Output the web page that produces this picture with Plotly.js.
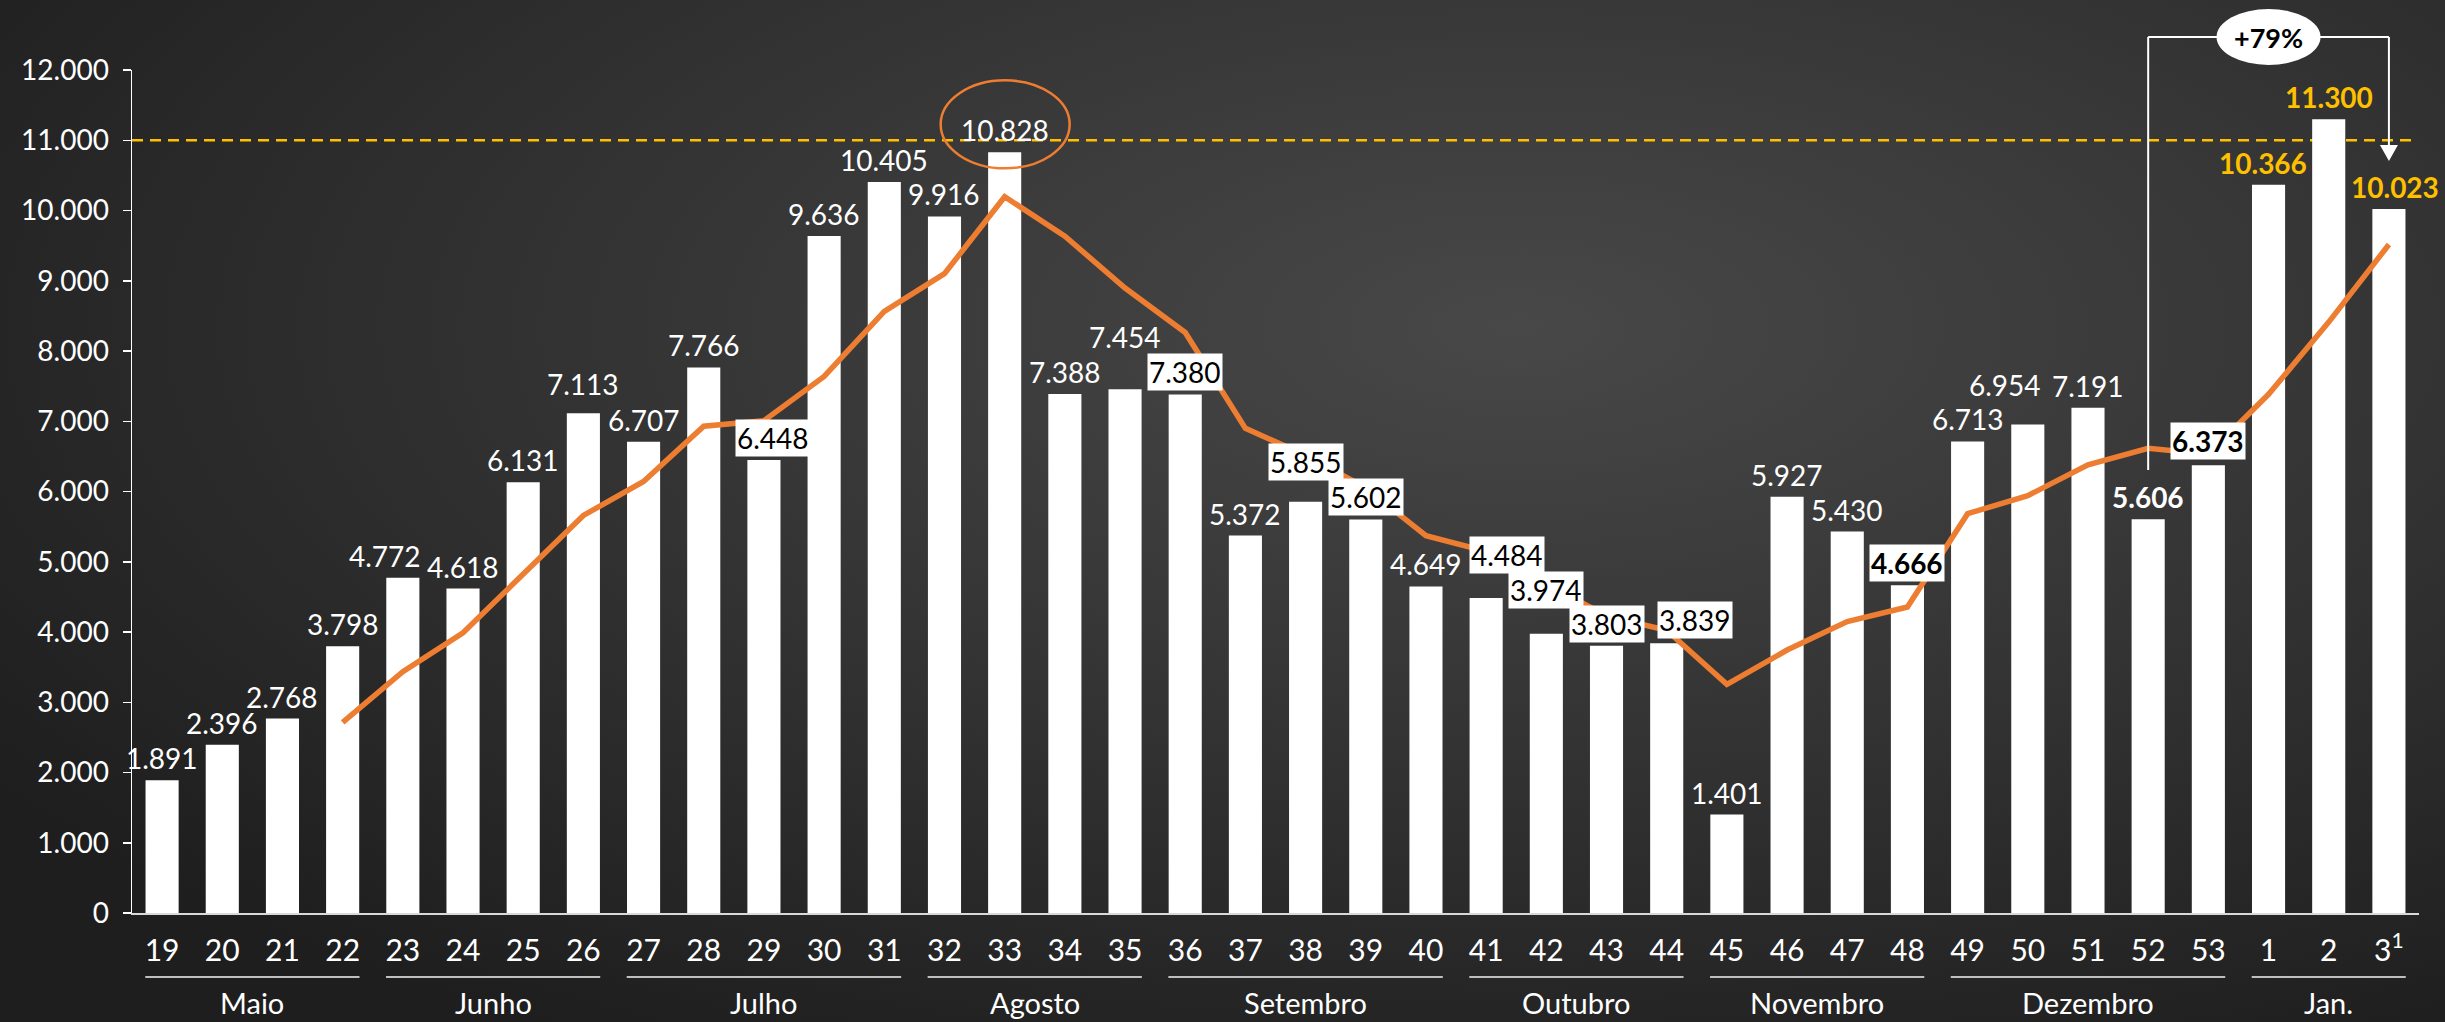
<!DOCTYPE html>
<html>
<head>
<meta charset="utf-8">
<script src="https://cdn.plot.ly/plotly-3.0.1.min.js"></script>
<style>
  html, body { margin: 0; padding: 0; }
  body {
    width: 2445px; height: 1022px; overflow: hidden;
    background: radial-gradient(ellipse 75% 80% at 62% 32%, #484848 0%, #3a3a3a 35%, #2b2b2b 70%, #1e1e1e 100%);
  }
  #chart { width: 2445px; height: 1022px; }
</style>
</head>
<body>
<div id="chart"></div>
<script>
// ---------------- DATA ----------------
const weeks = ['19','20','21','22','23','24','25','26','27','28','29','30','31','32','33','34','35','36','37','38','39','40','41','42','43','44','45','46','47','48','49','50','51','52','53','1','2','3'];
const weekLabels = ['19','20','21','22','23','24','25','26','27','28','29','30','31','32','33','34','35','36','37','38','39','40','41','42','43','44','45','46','47','48','49','50','51','52','53','1','2','3<sup>1</sup>'];
const cases = [1891,2396,2768,3798,4772,4618,6131,7113,6707,7766,6448,9636,10405,9916,10828,7388,7454,7380,5372,5855,5602,4649,4484,3974,3803,3839,1401,5927,5430,4666,6713,6954,7191,5606,6373,10366,11300,10023];
const movingAvg = [null,null,null,2713,3434,3989,4830,5659,6142,6929,7009,7639,8564,9101,10196,9634,8897,8263,6899,6515,6052,5370,5148,4677,4228,4025,3254,3743,4149,4356,5684,5941,6381,6616,6531,7384,8411,9516];
const months = ['Maio','Junho','Julho','Agosto','Setembro','Outubro','Novembro','Dezembro','Jan.'];
const monthWeekCounts = [4,4,5,4,5,4,4,5,3];
const referenceLevel = 11000;
const highlightWeek = '33';
const changeFrom = '52', changeTo = '3', changeText = '+79%';

// ---------------- STYLE ----------------
const FONT = 'Lato, "Open Sans", sans-serif';
const ORANGE = '#ED7D31', GOLD = '#FFC000';
// per-label placement / look (pixel offsets)
const labelStyle = {
  '23': {dx: -18},
  '26': {dy: 10},
  '29': {box: true, dx: 9, dy: 3},
  '35': {dy: 33},
  '36': {box: true, dy: 4},
  '38': {box: true, dy: 21},
  '39': {box: true, dy: 3},
  '41': {box: true, dx: 21, dy: 24},
  '42': {box: true, dy: 25},
  '43': {box: true, dy: 3},
  '44': {box: true, dx: 28, dy: 4},
  '48': {box: true, bold: true, dy: 3},
  '50': {dx: -23, dy: 20},
  '52': {bold: true},
  '53': {box: true, bold: true, dy: 5},
  '1': {gold: true, dx: -6},
  '2': {gold: true},
  '3': {gold: true, dx: 6}
};

const fmt = v => String(v).replace(/\B(?=(\d{3})+(?!\d))/g, '.');
const idx = weeks.map((w, i) => i);
const posOf = w => weeks.indexOf(w);

// plot geometry helpers (paper coords below/above plot)
const M = {l: 132, r: 26, t: 70, b: 109};
const plotH = 1022 - M.t - M.b;
const paperY = px => (1022 - M.b - px) / plotH;   // px = absolute page y

// ---------------- TRACES ----------------
const bars = {
  type: 'bar', x: idx, y: cases, width: 0.55,
  marker: {color: '#ffffff', line: {width: 0}},
  hoverinfo: 'skip', showlegend: false
};
const avgLine = {
  type: 'scatter', mode: 'lines', x: idx, y: movingAvg,
  line: {color: ORANGE, width: 5.5}, connectgaps: false,
  hoverinfo: 'skip', showlegend: false
};

// ---------------- ANNOTATIONS ----------------
const annotations = [];
cases.forEach((v, i) => {
  const s = labelStyle[weeks[i]] || {};
  let txt = fmt(v);
  if (s.bold || s.gold) txt = '<b>' + txt + '</b>';
  const a = {
    x: i, y: v, xref: 'x', yref: 'y', text: txt, showarrow: false,
    xanchor: 'center', yanchor: 'bottom',
    xshift: s.dx || 0, yshift: (s.dy !== undefined ? s.dy : 3),
    font: {family: FONT, size: 28, color: s.gold ? GOLD : '#ffffff'}
  };
  if (s.box) {
    a.bgcolor = '#ffffff'; a.borderpad = 1;
    a.font.color = '#000000';
  }
  annotations.push(a);
});

// month labels + underlines
const shapes = [];
let start = 0;
months.forEach((m, k) => {
  const end = start + monthWeekCounts[k] - 1;
  annotations.push({
    x: (start + end) / 2, y: paperY(1002), xref: 'x', yref: 'paper',
    text: m, showarrow: false, xanchor: 'center', yanchor: 'middle',
    font: {family: FONT, size: 29, color: '#ffffff'}
  });
  shapes.push({
    type: 'line', xref: 'x', yref: 'paper',
    x0: start - 0.28, x1: end + 0.28, y0: paperY(977), y1: paperY(977),
    line: {color: '#bfbfbf', width: 2}
  });
  start = end + 1;
});

// reference dashed line
shapes.push({
  type: 'line', xref: 'paper', yref: 'y', x0: 0, x1: 0.997,
  y0: referenceLevel, y1: referenceLevel,
  line: {color: GOLD, width: 2.5, dash: '11px,7px'}, layer: 'below'
});

// circle around peak
const hp = posOf(highlightWeek);
shapes.push({
  type: 'circle', xref: 'x', yref: 'y',
  xsizemode: 'pixel', ysizemode: 'pixel',
  xanchor: hp, yanchor: cases[hp],
  x0: -64, x1: 65, y0: -16, y1: 72,
  line: {color: ORANGE, width: 2.5}
});

// bracket for change
const cf = posOf(changeFrom), ct = posOf(changeTo);
const topY = paperY(37);
shapes.push({type: 'line', xref: 'x', yref: 'paper', x0: cf, x1: cf, y0: paperY(470), y1: topY,
  line: {color: '#ffffff', width: 2}});
shapes.push({type: 'line', xref: 'x', yref: 'paper', x0: cf, x1: ct, y0: topY, y1: topY,
  line: {color: '#ffffff', width: 2}});
shapes.push({type: 'line', xref: 'x', yref: 'paper', x0: ct, x1: ct, y0: topY, y1: paperY(148),
  line: {color: '#ffffff', width: 2}});
shapes.push({type: 'path', xref: 'x', yref: 'paper', xsizemode: 'pixel', ysizemode: 'pixel',
  xanchor: ct, yanchor: paperY(161),
  path: 'M -9 16 L 9 16 L 0 0 Z', fillcolor: '#ffffff', line: {width: 0}});
shapes.push({type: 'circle', xref: 'x', yref: 'paper', xsizemode: 'pixel', ysizemode: 'pixel',
  xanchor: (cf + ct) / 2, yanchor: topY, x0: -52, x1: 52, y0: -28, y1: 28,
  fillcolor: '#ffffff', line: {width: 0}});
annotations.push({
  x: (cf + ct) / 2, y: topY, xref: 'x', yref: 'paper', text: '<b>' + changeText + '</b>',
  showarrow: false, xanchor: 'center', yanchor: 'middle',
  font: {family: FONT, size: 27, color: '#000000'}
});

// ---------------- LAYOUT ----------------
const layout = {
  width: 2445, height: 1022,
  margin: M,
  paper_bgcolor: 'rgba(0,0,0,0)', plot_bgcolor: 'rgba(0,0,0,0)',
  separators: ',.',
  font: {family: FONT, color: '#ffffff'},
  showlegend: false,
  xaxis: {
    type: 'linear', range: [-0.5, weeks.length - 0.5],
    tickvals: idx, ticktext: weekLabels,
    showgrid: false, zeroline: false,
    showline: true, linecolor: '#d9d9d9', linewidth: 2,
    ticks: '', ticklabelstandoff: 10,
    tickfont: {family: FONT, size: 30, color: '#ffffff'},
    fixedrange: true
  },
  yaxis: {
    range: [0, 12000], dtick: 1000, tick0: 0, tickformat: ',d',
    showgrid: false, zeroline: false,
    showline: true, linecolor: '#ffffff', linewidth: 1.5,
    ticks: 'outside', ticklen: 8, tickwidth: 1.5, tickcolor: '#ffffff',
    ticklabelstandoff: 8,
    tickfont: {family: FONT, size: 28, color: '#ffffff'},
    fixedrange: true
  },
  annotations: annotations,
  shapes: shapes
};

Plotly.newPlot('chart', [bars, avgLine], layout, {staticPlot: true, displayModeBar: false});
</script>
</body>
</html>
